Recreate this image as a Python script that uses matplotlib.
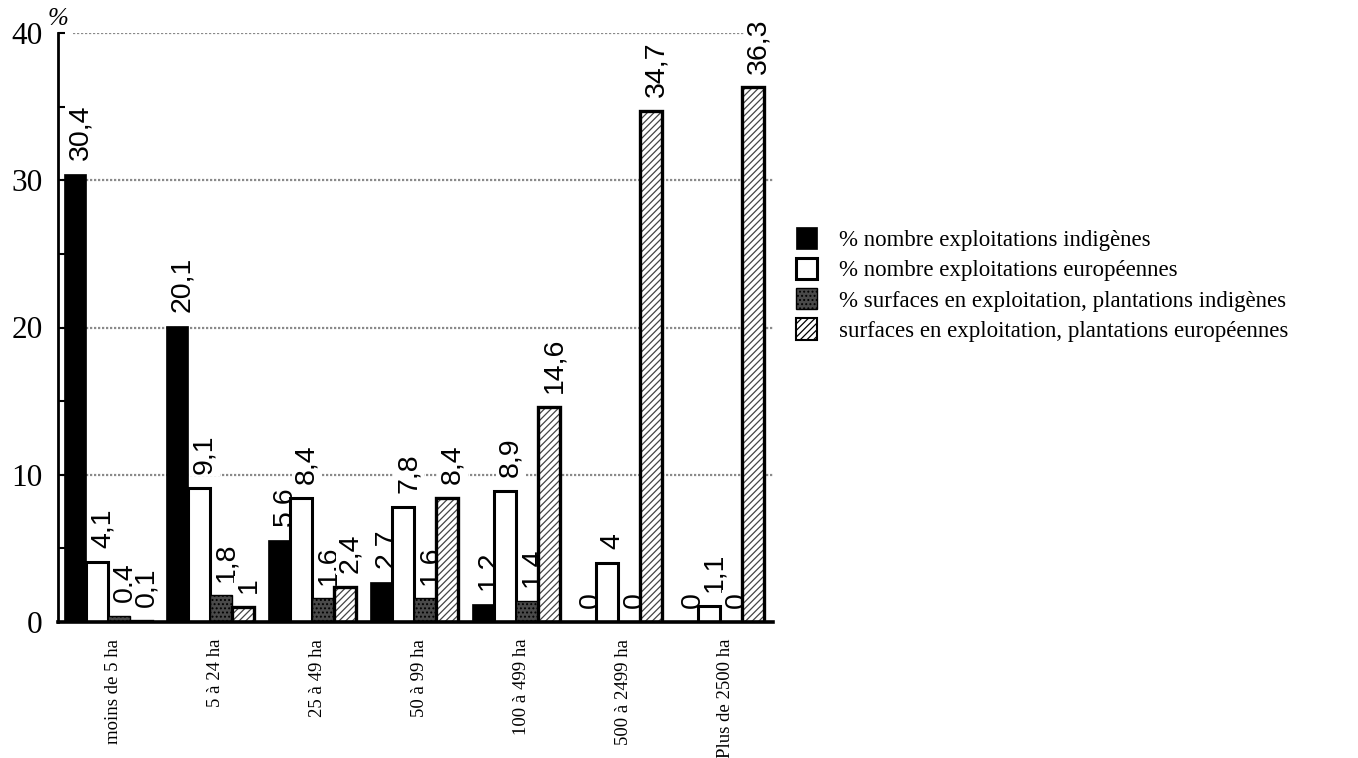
import matplotlib
matplotlib.use("Agg")
import matplotlib.pyplot as plt
from matplotlib.patches import Patch
import numpy as np

categories = ["moins de 5 ha", "5 à 24 ha", "25 à 49 ha", "50 à 99 ha",
              "100 à 499 ha", "500 à 2499 ha", "Plus de 2500 ha"]
series_names = ["% nombre exploitations indigènes",
                "% nombre exploitations européennes",
                "% surfaces en exploitation, plantations indigènes",
                "surfaces en exploitation, plantations européennes"]
nb_indigenes = [30.4, 20.1, 5.6, 2.7, 1.2, 0, 0]
nb_europeens = [4.1, 9.1, 8.4, 7.8, 8.9, 4, 1.1]
surf_indigenes = [0.4, 1.8, 1.6, 1.6, 1.4, 0, 0]
surf_europeens = [0.1, 1, 2.4, 8.4, 14.6, 34.7, 36.3]
lbl_nb_indigenes = ["30,4", "20,1", "5,6", "2,7", "1,2", "0", "0"]
lbl_nb_europeens = ["4,1", "9,1", "8,4", "7,8", "8,9", "4", "1,1"]
lbl_surf_indigenes = ["0.4", "1,8", "1,6", "1,6", "1,4", "0", "0"]
lbl_surf_europeens = ["0,1", "1", "2,4", "8,4", "14,6", "34,7", "36,3"]
yticks = [0, 10, 20, 30, 40]

plt.rcParams['hatch.linewidth'] = 0.9

W, H = 1358, 758
fig = plt.figure(figsize=(W / 100, H / 100), dpi=100)
ax = fig.add_axes([58 / W, (H - 622) / H, (773 - 58) / W, (622 - 33) / H])

w = 22 / 102.0
x = np.arange(len(categories))

styles = [
    dict(facecolor="black", edgecolor="black", linewidth=0.5),
    dict(facecolor="white", edgecolor="black", linewidth=2.2),
    dict(facecolor="#4a4a4a", edgecolor="black", linewidth=1.0, hatch="...."),
    None,
]
data = [nb_indigenes, nb_europeens, surf_indigenes, surf_europeens]
labels = [lbl_nb_indigenes, lbl_nb_europeens, lbl_surf_indigenes, lbl_surf_europeens]

for j, (vals, labs) in enumerate(zip(data, labels)):
    xs = x + j * w
    if styles[j] is not None:
        ax.bar(xs, vals, width=w, align="edge", zorder=2, **styles[j])
    else:
        ax.bar(xs, vals, width=w, align="edge", facecolor="white",
               edgecolor="#444444", linewidth=0, hatch="/////", zorder=2)
        ax.bar(xs, vals, width=w, align="edge", facecolor="none",
               edgecolor="black", linewidth=2.4, zorder=2.1)
    for xi, v, s in zip(xs, vals, labs):
        ax.annotate(s, xy=(xi + w / 2, v), xytext=(4, 10),
                    textcoords="offset points", rotation=90,
                    ha="center", va="bottom", fontsize=20.5,
                    family="Liberation Sans", zorder=1,
                    bbox=dict(facecolor="white", edgecolor="none", pad=1.5))

ax.set_xlim(-6 / 102.0, (773 - 64) / 102.0)
ax.set_ylim(0, 40)

for yv in yticks[1:]:
    ax.axhline(yv, xmin=(15 / 715 if yv == 40 else 0), color="#8a8a8a",
               linewidth=1.6, linestyle=(0, (1, 0.8)), zorder=0.5)

ax.spines["top"].set_visible(False)
ax.spines["right"].set_visible(False)
ax.spines["left"].set_linewidth(2.0)
ax.spines["bottom"].set_linewidth(2.6)

ax.set_yticks(yticks)
ax.set_yticks([5, 15, 25, 35], minor=True)
ax.tick_params(axis="y", which="both", direction="in", length=5, width=1.5, pad=11)
ax.tick_params(axis="y", which="major", labelsize=22.5)
for t in ax.get_yticklabels():
    t.set_family("Liberation Serif")

ax.set_xticks(x + 2 * w + 0.05)
ax.set_xticklabels(categories, rotation=90, fontsize=13.5, family="Liberation Serif",
                   va="top", ha="center")
ax.tick_params(axis="x", length=0, pad=12)

fig.text(58 / W, 1 - 19 / H, "%", ha="center", va="center", fontsize=18,
         family="Liberation Serif", style="italic")

handles = [
    Patch(facecolor="black", edgecolor="black", linewidth=0.5),
    Patch(facecolor="white", edgecolor="black", linewidth=2.2),
    Patch(facecolor="#4a4a4a", edgecolor="black", linewidth=1.0, hatch="...."),
    Patch(facecolor="white", edgecolor="black", linewidth=1.5, hatch="/////"),
]
fig.legend(handles, series_names, loc="upper left",
           bbox_to_anchor=(785 / W, (H - 216) / H), bbox_transform=fig.transFigure,
           frameon=False, borderpad=0, handlelength=0.9,
           handleheight=1.05, handletextpad=0.95, labelspacing=0.3,
           prop=dict(family="Liberation Serif", size=16.5))

fig.savefig("out.png", dpi=100)
